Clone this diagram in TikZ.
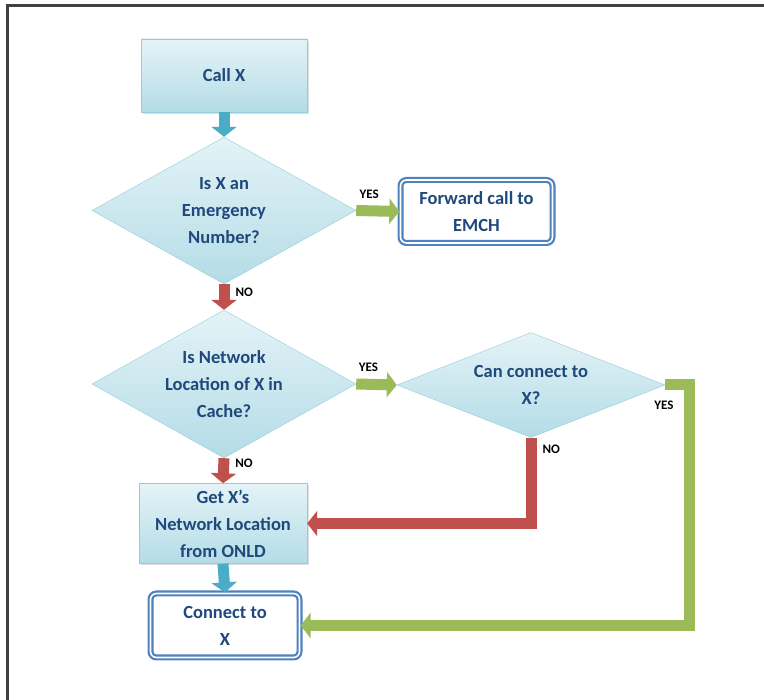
\documentclass[tikz,border=0pt]{standalone}
\usepackage{fontspec}
\setmainfont{Carlito}
\usetikzlibrary{shapes.geometric,arrows.meta,shadows}

\definecolor{txtblue}{HTML}{1F497D}
\definecolor{boxtop}{HTML}{E4F3F7}
\definecolor{boxbot}{HTML}{B4DCE6}
\definecolor{boxline}{HTML}{93CDDD}
\definecolor{rimblue}{HTML}{4F81BD}
\definecolor{flowblue}{HTML}{4BACC6}
\definecolor{flowred}{HTML}{C0504D}
\definecolor{flowgreen}{HTML}{9BBB59}

\tikzset{
    txt/.style={font=\fontsize{18.5}{27}\selectfont\bfseries, text=txtblue, align=center},
    stepbox/.style={txt, rectangle, draw=boxline, top color=boxtop, bottom color=boxbot,
        drop shadow={opacity=0.25, shadow xshift=2pt, shadow yshift=-2pt}},
    endbox/.style={txt, rectangle, rounded corners=6pt, draw=rimblue, fill=white,
        line width=2.2pt, double=white, double distance=1.6pt},
    query/.style={txt, diamond, draw=boxline, top color=boxtop, bottom color=boxbot, inner sep=0pt},
    flow/.style={line width=11pt, -{Triangle[length=10pt,width=25pt]}},
    lbl/.style={font=\fontsize{13}{13}\selectfont\bfseries, text=black, inner sep=1pt},
}

\begin{document}
\begin{tikzpicture}[x=1pt,y=-1pt]
    \useasboundingbox (0,0) rectangle (764,700);
    \draw[line width=3pt, black!75] (764,6) -- (7.5,6) -- (7.5,700);

        % kroki
    \node[stepbox, minimum width=166, minimum height=73] (callx) at (224,75.5) {Call X};
    \node[endbox, minimum width=152, minimum height=63] (fwd) at (476.5,211.5) {Forward call to\\EMCH};
    \node[stepbox, minimum width=168, minimum height=80] (getloc) at (223,523.5) {Get X’s\\Network Location\\from ONLD};
    \node[endbox, minimum width=149, minimum height=64] (conn) at (225,625.5) {Connect to\\X};

        % decyzje
    \node[query, aspect=1.8, minimum width=264, minimum height=147] (emerg) at (224,210.5) {Is X an\\Emergency\\Number?};
    \node[query, aspect=1.8, minimum width=264, minimum height=148] (cache) at (224,384) {Is Network\\Location of X in\\Cache?};
    \node[query, aspect=2.55, minimum width=268, minimum height=105] (canconn) at (531,385) {Can connect to\\X?};

    \coordinate (yesbend) at (689,385);

        % strzałki
    \draw[flow, flowblue] (callx.south) -- (emerg.north);
    \draw[flow, flowgreen] (emerg.east) -- node[lbl, above=6pt, pos=0.3] {YES} (fwd.west);
    \draw[flow, flowred] (emerg.south) -- node[lbl, right=5pt, pos=0.3] {NO} (cache.north);
    \draw[flow, flowgreen] (cache.east) -- node[lbl, above=6pt, pos=0.3] {YES} (canconn.west);
    \draw[flow, flowred] (cache.south) -- node[lbl, right=5pt, pos=0.2] {NO} (getloc.north);
    \draw[flow, flowred] (canconn.south) |- node[lbl, right=5pt, pos=0.07] {NO} (getloc.east);
    \draw[flow, flowgreen] (canconn.east) -- (yesbend) |- (conn.east);
    \node[lbl] (yeslbl) at (664,405) {YES};
    \draw[flow, flowblue] (getloc.south) -- (conn.north);
\end{tikzpicture}
\end{document}
